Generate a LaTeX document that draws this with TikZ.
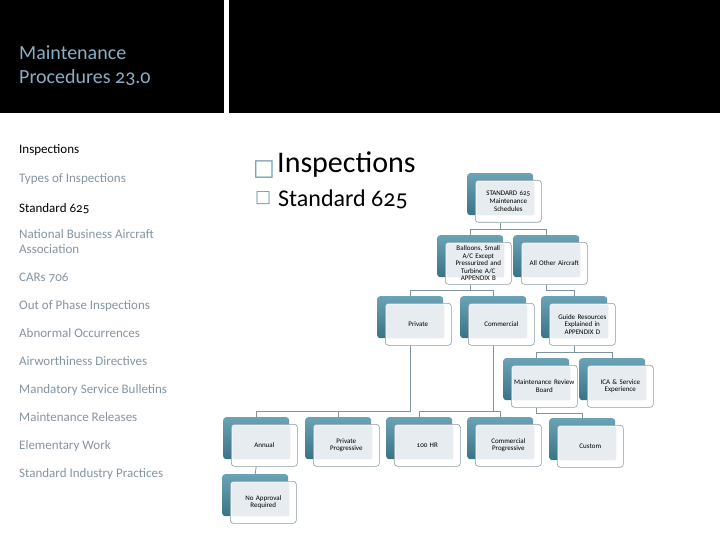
\documentclass[tikz,border=0pt]{standalone}
\usepackage{fontspec}
\setmainfont{Carlito}[Numbers=OldStyle]
\newfontfamily\bulletfont{DejaVu Sans}

\definecolor{titleblue}{HTML}{8AAEC4}
\definecolor{listgray}{HTML}{8595A0}
\definecolor{tealtop}{HTML}{6AA2B6}
\definecolor{tealbot}{HTML}{3A7286}
\definecolor{framegray}{HTML}{8B9CA3}
\definecolor{panel}{HTML}{E6ECF0}
\definecolor{linkgray}{HTML}{7F949C}
\definecolor{bulletteal}{HTML}{6F9FAE}

\begin{document}
\begin{tikzpicture}[x=1pt, y=-1pt,
    backbox/.style={rectangle, anchor=north west, minimum width=66pt, minimum height=42pt,
        rounded corners=3pt, top color=tealtop, bottom color=tealbot, draw=none},
    frontbox/.style={rectangle, anchor=north west, minimum width=66pt, minimum height=42pt,
        rounded corners=3pt, draw=framegray, line width=0.6pt, fill=white, inner sep=1pt,
        align=center, text width=62pt, text=black, font=\fontsize{7}{7.6}\selectfont,
        path picture={\fill[panel, rounded corners=2pt]
            ([shift={(1pt,-1pt)}]path picture bounding box.north west) rectangle
            ([shift={(-7pt,7pt)}]path picture bounding box.south east);}},
    link/.style={draw=linkgray, line width=0.8pt},
    listitem/.style={anchor=base west, inner sep=0pt, text=listgray, font=\fontsize{13}{14}\selectfont},
    listcur/.style={listitem, text=black},
    bigitem/.style={anchor=base west, inner sep=0pt, text=black}]
    % Page and header bars:
        \fill[white] (0,0) rectangle (720,540);
        \useasboundingbox (0,0) rectangle (720,540);
        \fill[black] (0,0) rectangle (224,113);
        \fill[black] (229,0) rectangle (720,113);
        \node[anchor=base west, inner sep=0pt, text=titleblue, font=\fontsize{20}{24}\selectfont] (t1) at (19,60) {Maintenance};
        \node[anchor=base west, inner sep=0pt, text=titleblue, font=\fontsize{20}{24}\selectfont] (t2) at (19,84) {Procedures 23.0};
    % Left list:
        \node[listcur] (l1) at (19,154) {Inspections};
        \node[listitem] (l2) at (19,183) {Types of Inspections};
        \node[listcur] (l3) at (19,212) {Standard 625};
        \node[listitem, align=left] (l4) at (19,253) {National Business Aircraft\\Association};
        \node[listitem] (l5) at (19,281) {CARs 706};
        \node[listitem] (l6) at (19,309) {Out of Phase Inspections};
        \node[listitem] (l7) at (19,337) {Abnormal Occurrences};
        \node[listitem] (l8) at (19,365) {Airworthiness Directives};
        \node[listitem] (l9) at (19,393) {Mandatory Service Bulletins};
        \node[listitem] (l10) at (19,421) {Maintenance Releases};
        \node[listitem] (l11) at (19,449) {Elementary Work};
        \node[listitem] (l12) at (19,477) {Standard Industry Practices};
    % Headings:
        \node[bigitem, text=bulletteal, font=\bulletfont\fontsize{23}{23}\selectfont] (b1) at (253,176) {□};
        \node[bigitem, font=\fontsize{30}{30}\selectfont] (h1) at (277,173) {Inspections};
        \node[bigitem, text=bulletteal, font=\bulletfont\fontsize{17}{17}\selectfont] (b2) at (255,203) {□};
        \node[bigitem, font=\fontsize{24}{24}\selectfont] (h2) at (278,207) {Standard 625};
    % Boxes (back, then front):
        \node[backbox] (stdB) at (467,173) {};
        \node[frontbox] (stdF) at (475,180) {STANDARD 625\\Maintenance\\Schedules};
        \node[backbox] (balB) at (437,235) {};
        \node[frontbox] (balF) at (445,242) {Balloons, Small\\A/C Except\\Pressurized and\\Turbine A/C\\APPENDIX B};
        \node[backbox] (alloB) at (513,235) {};
        \node[frontbox] (alloF) at (521,242) {All Other Aircraft};
        \node[backbox] (privB) at (377,296) {};
        \node[frontbox] (privF) at (385,303) {Private};
        \node[backbox] (commB) at (460,296) {};
        \node[frontbox] (commF) at (468,303) {Commercial};
        \node[backbox] (guideB) at (541,296) {};
        \node[frontbox] (guideF) at (549,303) {Guide Resources\\Explained in\\APPENDIX D};
        \node[backbox] (mrbB) at (503,358) {};
        \node[frontbox] (mrbF) at (511,365) {Maintenance Review\\Board};
        \node[backbox] (icaB) at (579,358) {};
        \node[frontbox] (icaF) at (587,365) {ICA \& Service\\Experience};
        \node[backbox] (annB) at (223,417) {};
        \node[frontbox] (annF) at (231,424) {Annual};
        \node[backbox] (ppB) at (305,417) {};
        \node[frontbox] (ppF) at (313,424) {Private\\Progressive};
        \node[backbox] (hrB) at (386,417) {};
        \node[frontbox] (hrF) at (394,424) {100 HR};
        \node[backbox] (cpB) at (467,417) {};
        \node[frontbox] (cpF) at (475,424) {Commercial\\Progressive};
        \node[backbox] (custB) at (549,418) {};
        \node[frontbox] (custF) at (557,425) {Custom};
        \node[backbox] (naB) at (222,474) {};
        \node[frontbox] (naF) at (230,481) {No Approval\\Required};
    % Connectors:
        \draw[link] (stdB |- stdF.south) -- (stdB |- 0,229) -| (balB.north);
        \draw[link] (stdB |- 0,229) -| (alloB.north);
        \draw[link] (balB |- balF.south) -- (balB |- 0,290) -| (privB.north);
        \draw[link] (balB |- 0,290) -| (commB.north);
        \draw[link] (alloB |- alloF.south) -- (alloB |- 0,290) -| (guideB.north);
        \draw[link] (guideB |- guideF.south) -- (guideB |- 0,352) -| (mrbB.north);
        \draw[link] (guideB |- 0,352) -| (icaB.north);
        \draw[link] (privB |- privF.south) -- (privB |- 0,411) -| (annB.north);
        \draw[link] (privB |- 0,411) -| (ppB.north);
        \draw[link] (commB |- commF.south) -- (commB |- 0,411) -| (hrB.north);
        \draw[link] (commB |- 0,411) -| (cpB.north);
        \draw[link] (mrbB |- mrbF.south) -- (mrbB |- 0,413) -| (custB.north);
        \draw[link] (annB |- annF.south) -- (naB.north);
\end{tikzpicture}
\end{document}
